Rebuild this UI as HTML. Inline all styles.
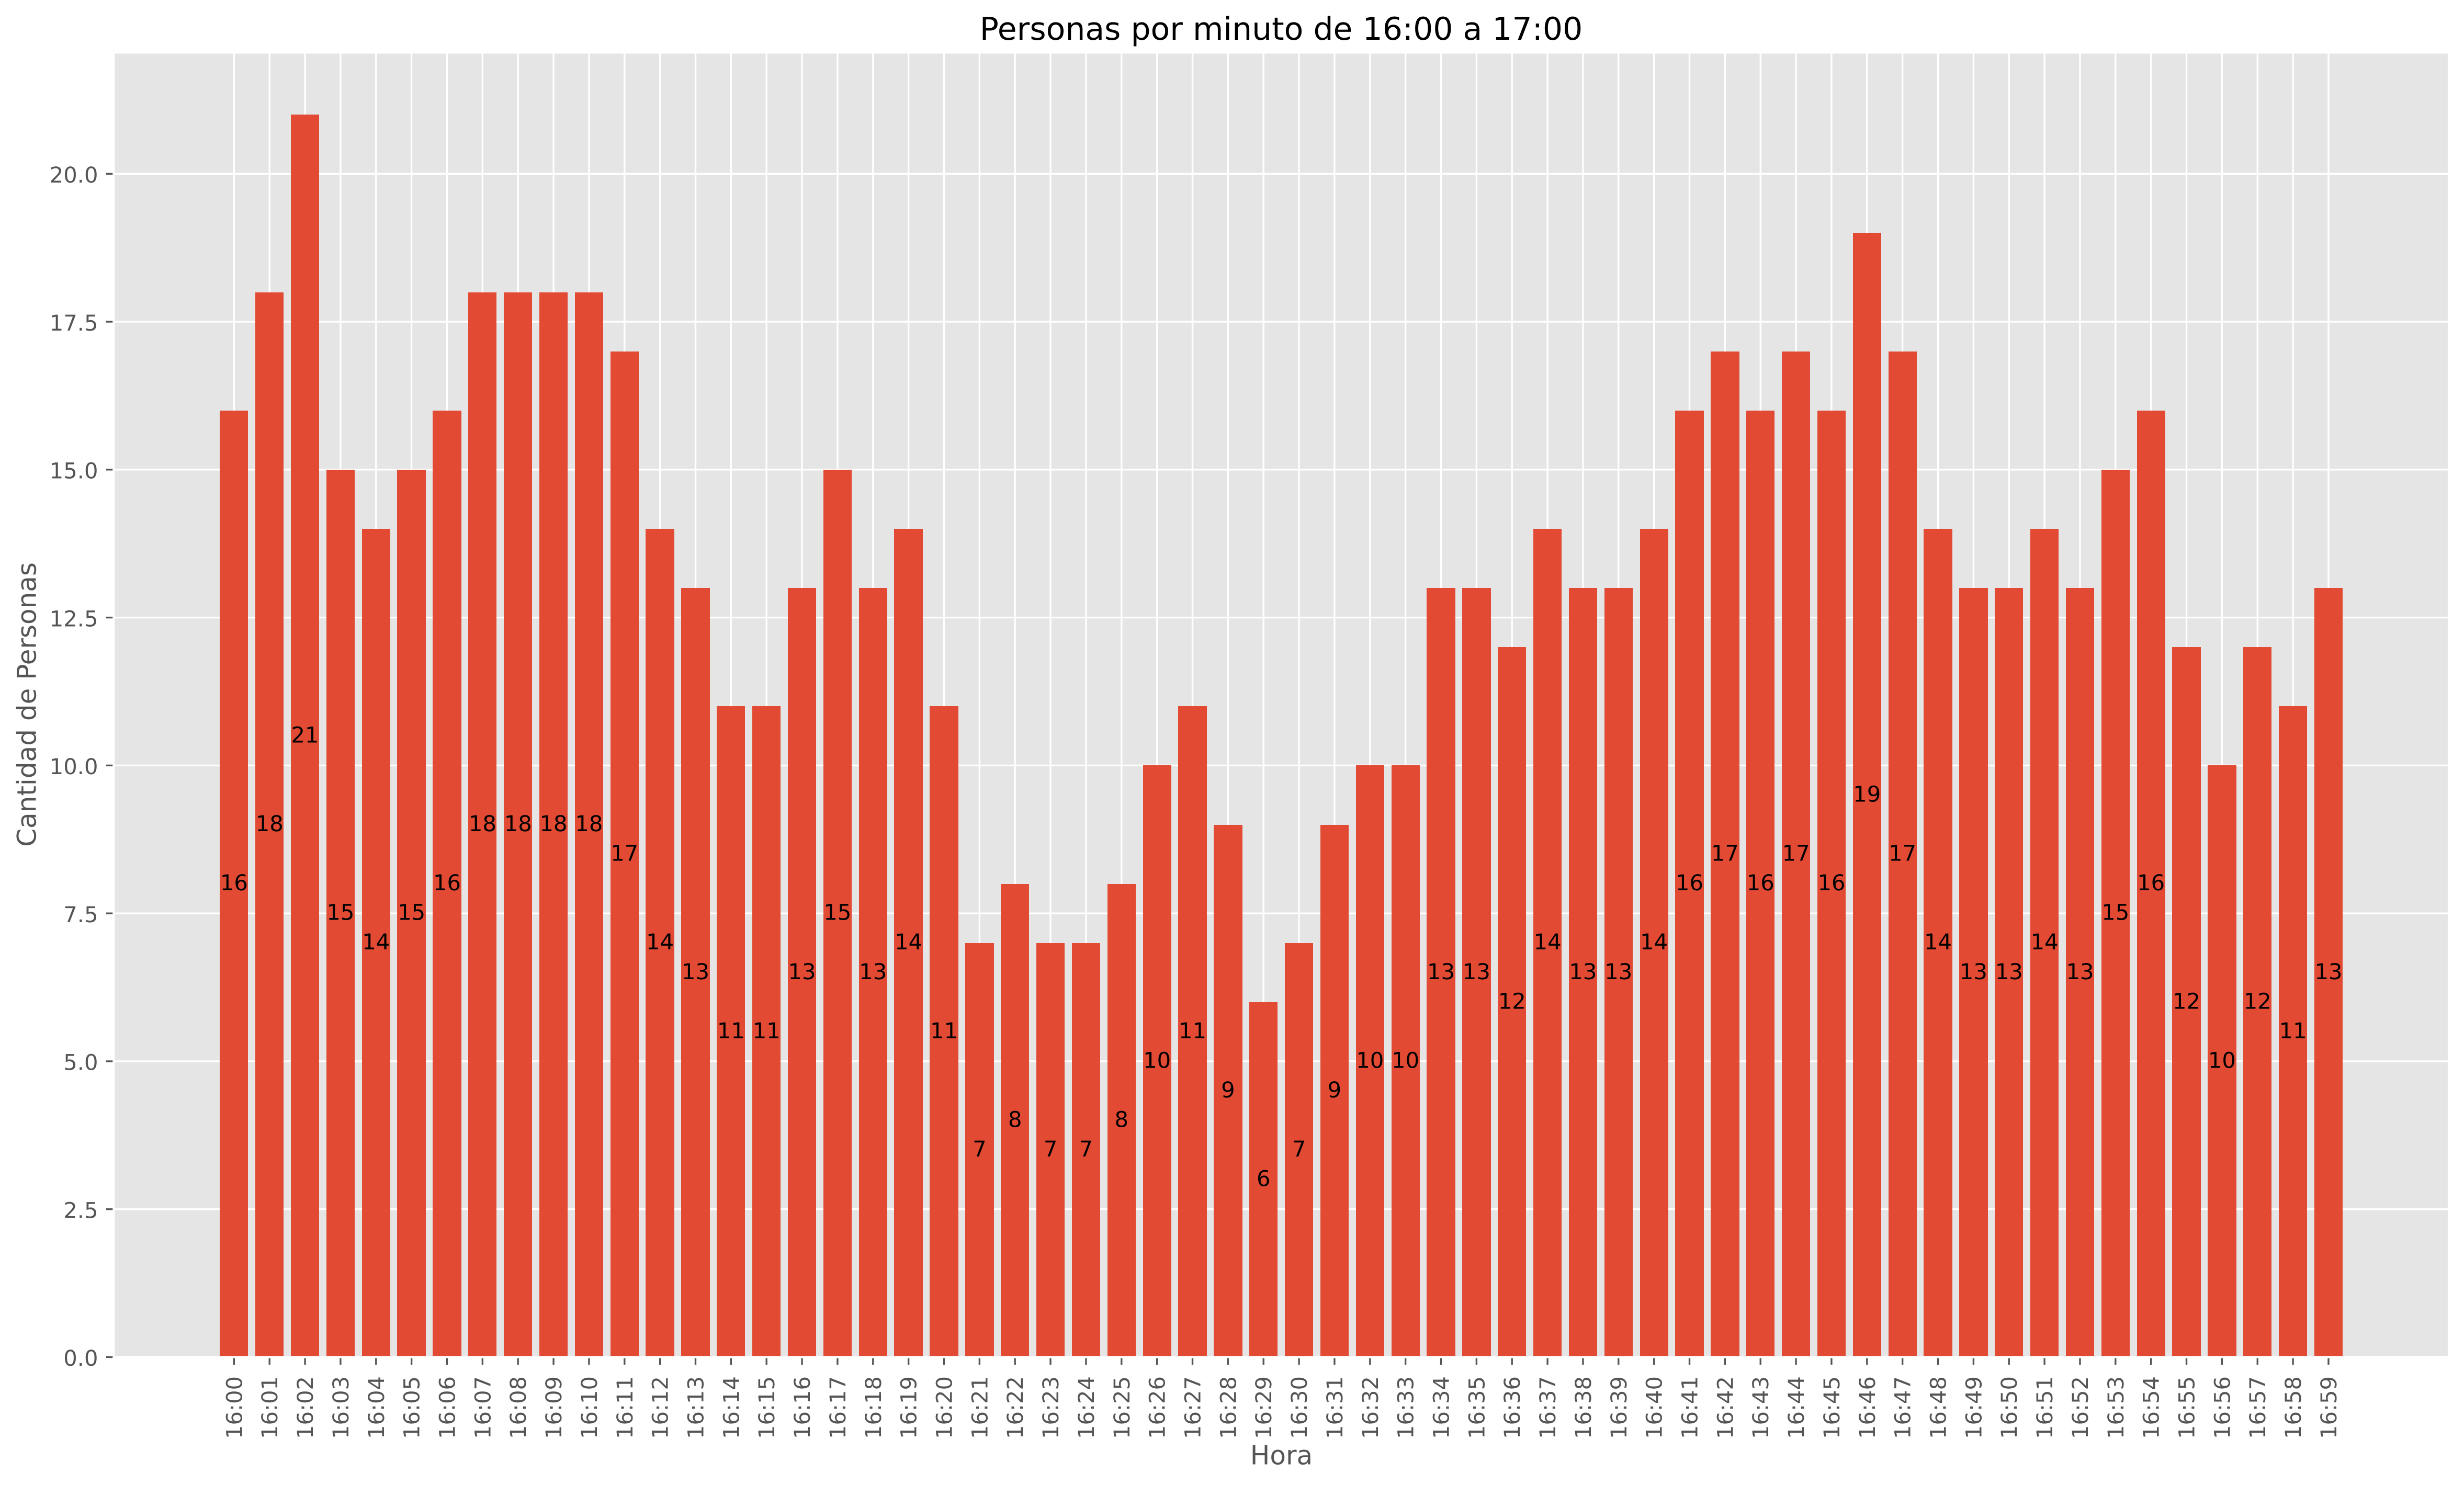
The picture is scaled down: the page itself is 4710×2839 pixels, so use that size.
<!DOCTYPE html>
<html lang="es">
<head>
<meta charset="utf-8">
<title>Personas por minuto de 16:00 a 17:00</title>
<style>
html,body{margin:0;padding:0;background:#fff;width:4710px;height:2839px;overflow:hidden}
svg{display:block}
text{font-family:"DejaVu Sans","Liberation Sans",sans-serif;text-rendering:geometricPrecision}
</style>
</head>
<body>
<svg id="chart" xmlns="http://www.w3.org/2000/svg" width="4710" height="2839" viewBox="0 0 4710 2839">
  <rect x="0" y="0" width="4710" height="2839" fill="#ffffff"/>
  <g id="plot-bg"></g>
  <g id="grid"></g>
  <g id="bars"></g>
  <g id="spines"></g>
  <g id="ticks"></g>
  <g id="x-labels"></g>
  <g id="y-labels"></g>
  <g id="values"></g>
  <text x="2449" y="76" text-anchor="middle" font-size="60" fill="#000000">Personas por minuto de 16:00 a 17:00</text>
  <text x="2449.5" y="2799.5" text-anchor="middle" font-size="50" fill="#555555">Hora</text>
  <text transform="translate(68.5 1347) rotate(-90)" text-anchor="middle" font-size="50" fill="#555555">Cantidad de Personas</text>
</svg>
<script>
const categories = ["16:00","16:01","16:02","16:03","16:04","16:05","16:06","16:07","16:08","16:09","16:10","16:11","16:12","16:13","16:14","16:15","16:16","16:17","16:18","16:19","16:20","16:21","16:22","16:23","16:24","16:25","16:26","16:27","16:28","16:29","16:30","16:31","16:32","16:33","16:34","16:35","16:36","16:37","16:38","16:39","16:40","16:41","16:42","16:43","16:44","16:45","16:46","16:47","16:48","16:49","16:50","16:51","16:52","16:53","16:54","16:55","16:56","16:57","16:58","16:59"];
const personCounts = [16,18,21,15,14,15,16,18,18,18,18,17,14,13,11,11,13,15,13,14,11,7,8,7,7,8,10,11,9,6,7,9,10,10,13,13,12,14,13,13,14,16,17,16,17,16,19,17,14,13,13,14,13,15,16,12,10,12,11,13];
const yTickValues = [0,2.5,5,7.5,10,12.5,15,17.5,20];
const yTickLabels = ["0.0","2.5","5.0","7.5","10.0","12.5","15.0","17.5","20.0"];

const NS = "http://www.w3.org/2000/svg";
const AX_LEFT = 217.3, AX_RIGHT = 4681, AX_TOP = 100.4, AX_BOTTOM = 2594.5;
const BAR_WIDTH = 0.8;
const maxValue = Math.max.apply(null, personCounts);
const yMax = maxValue * 1.05;
const xSpan = (categories.length - 1) + BAR_WIDTH;
const xMin = -BAR_WIDTH / 2 - xSpan * 0.05;
const xMax = (categories.length - 1) + BAR_WIDTH / 2 + xSpan * 0.05;

function xScale(i) { return AX_LEFT + (i - xMin) / (xMax - xMin) * (AX_RIGHT - AX_LEFT); }
function yScale(v) { return AX_BOTTOM - v / yMax * (AX_BOTTOM - AX_TOP); }
function make(tag, attrs, parent) {
  const el = document.createElementNS(NS, tag);
  for (const k in attrs) el.setAttribute(k, attrs[k]);
  parent.appendChild(el);
  return el;
}
function hLine(parent, x1, x2, y, color, width) {
  return make("line", {x1: x1, x2: x2, y1: y, y2: y, stroke: color, "stroke-width": width}, parent);
}
function vLine(parent, x, y1, y2, color, width) {
  return make("line", {x1: x, x2: x, y1: y1, y2: y2, stroke: color, "stroke-width": width}, parent);
}

const gBg = document.getElementById("plot-bg");
const gGrid = document.getElementById("grid");
const gBars = document.getElementById("bars");
const gSpines = document.getElementById("spines");
const gTicks = document.getElementById("ticks");
const gX = document.getElementById("x-labels");
const gY = document.getElementById("y-labels");
const gVal = document.getElementById("values");

const bg = make("rect", {x: AX_LEFT, y: AX_TOP, width: AX_RIGHT - AX_LEFT, height: AX_BOTTOM - AX_TOP, fill: "#E5E5E5"}, gBg);



yTickValues.forEach(function (v, i) {
  const y = yScale(v);
  const grid = hLine(gGrid, AX_LEFT, AX_RIGHT, y, "#ffffff", 3.33);
  
  
  const tick = hLine(gTicks, AX_LEFT - 14.6, AX_LEFT - 2, y, "#555555", 3.33);
  
  
  const label = make("text", {x: 187.5, y: y + 16.7, "text-anchor": "end", "font-size": 41.67, fill: "#555555"}, gY);
  
  
  label.textContent = yTickLabels[i];
});

categories.forEach(function (c, i) {
  const x = xScale(i);
  const grid = vLine(gGrid, x, AX_TOP, AX_BOTTOM, "#ffffff", 3.33);
  
  

  const left = Math.round(xScale(i - BAR_WIDTH / 2));
  const right = Math.round(xScale(i + BAR_WIDTH / 2));
  const top = Math.round(yScale(personCounts[i]));
  const bar = make("rect", {x: left, y: top, width: right - left, height: yScale(0) - top, fill: "#E24A33"}, gBars);
  
  

  const tick = vLine(gTicks, x, AX_BOTTOM + 2, AX_BOTTOM + 14.6, "#555555", 3.33);
  
  

  const label = make("text", {transform: "translate(" + (x + 15) + " 2631) rotate(-90)", "text-anchor": "end", "font-size": 41.67, fill: "#555555"}, gX);
  
  
  label.textContent = c;

  const val = make("text", {x: x, y: yScale(personCounts[i] / 2) + 12.5, "text-anchor": "middle", "font-size": 41.67, fill: "#000000"}, gVal);
  
  
  val.textContent = personCounts[i];
});

[[AX_LEFT, AX_TOP, AX_LEFT, AX_BOTTOM], [AX_RIGHT, AX_TOP, AX_RIGHT, AX_BOTTOM], [AX_LEFT, AX_TOP, AX_RIGHT, AX_TOP], [AX_LEFT, AX_BOTTOM, AX_RIGHT, AX_BOTTOM]].forEach(function (s) {
  const spine = make("line", {x1: s[0], y1: s[1], x2: s[2], y2: s[3], stroke: "#ffffff", "stroke-width": 4.17, "stroke-linecap": "square"}, gSpines);
  
  
});
</script>
</body>
</html>
